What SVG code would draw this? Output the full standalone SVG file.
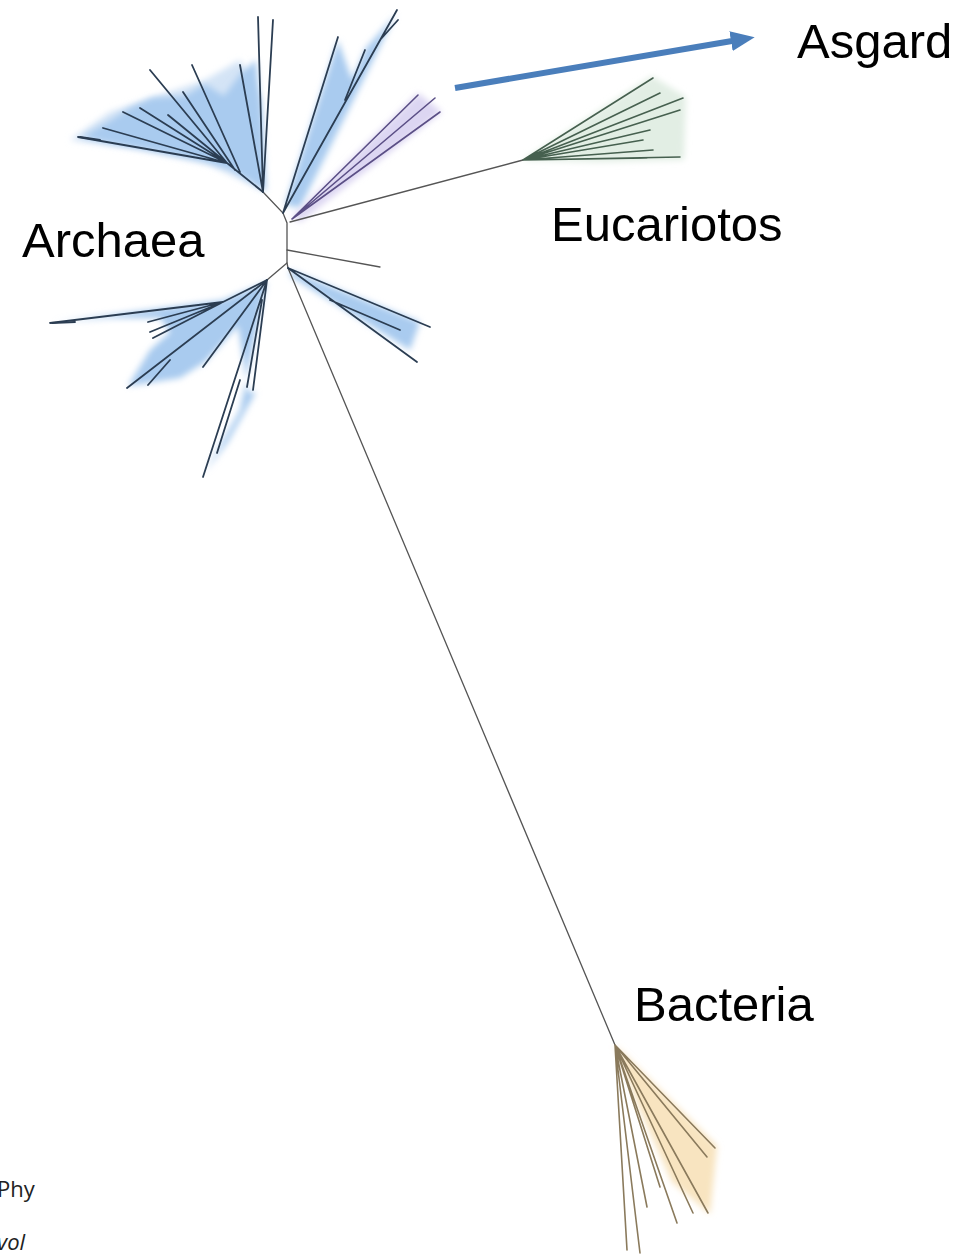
<svg xmlns="http://www.w3.org/2000/svg" width="960" height="1255" viewBox="0 0 960 1255">
  <defs>
    <filter id="soft" x="-20%" y="-20%" width="140%" height="140%">
      <feGaussianBlur stdDeviation="3"/>
    </filter>
    <marker id="ahead" markerUnits="userSpaceOnUse" markerWidth="24" markerHeight="20" viewBox="0 0 24 20" refX="1" refY="10" orient="auto">
      <path d="M0,0 L24,10 L0,20 z" fill="#4a7ebb"/>
    </marker>
    <style>
      .lbl { font-family: "Liberation Sans", Arial, sans-serif; font-size: 49px; fill: #000; }
      .cite { font-family: "Open Sans", "Liberation Sans", sans-serif; font-size: 22px; fill: #222; }
      .arc { stroke: #2b3d52; stroke-width: 1.8; fill: none; stroke-linecap: round; }
      .pur { stroke: #5b4f86; stroke-width: 1.6; fill: none; stroke-linecap: round; }
      .euk { stroke: #46604f; stroke-width: 1.6; fill: none; stroke-linecap: round; }
      .bac { stroke: #8a7a5c; stroke-width: 1.6; fill: none; stroke-linecap: round; }
      .stem { stroke: #555; stroke-width: 1.3; fill: none; stroke-linecap: round; }
      .shB { fill: #a9cbef; filter: url(#soft); }
      .shB2 { fill: #d4e4f6; filter: url(#soft); }
      .shP { fill: #dcd6f2; filter: url(#soft); }
      .shG { fill: #e2eee4; filter: url(#soft); }
      .shO { fill: #f8e4c0; filter: url(#soft); }
    </style>
  </defs>

  <g id="shading">
    <polygon class="shB2" points="70,140 110,112 160,95 205,80 240,60 262,100 266,192 210,165 140,150"/>
    <polygon class="shB" points="82,137 108,122 130,108 152,98 185,96 205,84 224,96 242,72 256,60 262,120 265,190 232,170 200,160 150,150 110,143"/>
    <polygon class="shB" points="285,205 338,40 352,80 366,48 396,14 300,208"/>
    <polygon class="shP" points="292,217 418,93 442,112 300,222"/>
    <polygon class="shG" points="523,160 652,76 686,97 684,160 600,162"/>
    <polygon class="shB" points="55,322 110,318 160,318 170,332 150,350 128,386 180,378 205,362 238,326 248,392 256,392 228,442 205,472 240,410 262,302 267,282 223,300"/>
    <polygon class="shB" points="290,270 420,322 410,350 290,276"/>
    <polygon class="shO" points="615,1045 717,1146 710,1214 672,1182 640,1110"/>
  </g>

  <g id="connectors">
    <path class="stem" d="M263,192 L283,213 L287,223 L287,263 L288,268"/>
    <path class="stem" d="M287,250 L380,267"/>
    <path class="stem" d="M287,263 L267,280"/>
    <path class="stem" d="M290,222 L523,160"/>
    <path class="stem" d="M288,268 L615,1045"/>
    <line x1="455" y1="88" x2="732" y2="41" stroke="#4a7ebb" stroke-width="6" marker-end="url(#ahead)"/>
  </g>

  <g id="archaea-upper">
    <path class="arc" d="M263,192 L227,163 M227,163 L78,137 M227,163 L103,128 M227,163 L123,112 M227,163 L140,108 M227,163 L168,115 M227,163 L150,70 M235,170 L183,92 M240,172 L192,65"/>
    <path class="arc" d="M263,192 L240,65 M263,192 L258,17 M263,192 L273,20"/>
    <path class="arc" d="M283,213 L338,37 M283,213 L397,10 M345,100 L365,50 M380,40 L398,20"/>
    <path class="arc" stroke-width="3.5" d="M80,137 L100,140"/>
  </g>

  <g id="asgard-clade">
    <path class="pur" d="M292,219 L418,95 M292,219 L435,98 M292,219 L440,112"/>
  </g>

  <g id="archaea-lower">
    <path class="arc" d="M267,280 L223,302 M223,302 L50,323 M223,302 L148,322 M223,302 L150,332 M223,302 L153,338"/>
    <path class="arc" d="M267,280 L127,388 M170,360 L148,385 M267,280 L203,367 M267,280 L203,477 M240,380 L217,453 M262,300 L247,387 M267,280 L253,390"/>
    <path class="arc" stroke-width="3.5" d="M52,323 L75,322"/>
    <path class="arc" d="M288,268 L430,327 M288,268 L417,362 M330,300 L400,330"/>
  </g>

  <g id="eukaryotes">
    <path class="euk" d="M523,160 L653,78 M523,160 L660,93 M523,160 L683,98 M523,160 L680,110 M523,160 L650,130 M523,160 L643,140 M523,160 L653,150 M523,160 L680,157 M523,160 L647,158"/>
  </g>

  <g id="bacteria">
    <path class="bac" d="M615,1045 L627,1250 M615,1045 L640,1253 M615,1045 L647,1207 M615,1045 L677,1223 M615,1045 L693,1213 M615,1045 L708,1213 M615,1045 L715,1148 M615,1045 L707,1157 M615,1045 L660,1187"/>
  </g>

  <g id="labels">
    <text class="lbl" x="797" y="58">Asgard</text>
    <text class="lbl" x="551" y="241">Eucariotos</text>
    <text class="lbl" x="22" y="257">Archaea</text>
    <text class="lbl" x="634" y="1021">Bacteria</text>
  </g>

  <g id="citation">
    <text class="cite" x="-3" y="1197">Phy</text>
    <text class="cite" x="-3" y="1250" font-style="italic">vol</text>
  </g>
</svg>
